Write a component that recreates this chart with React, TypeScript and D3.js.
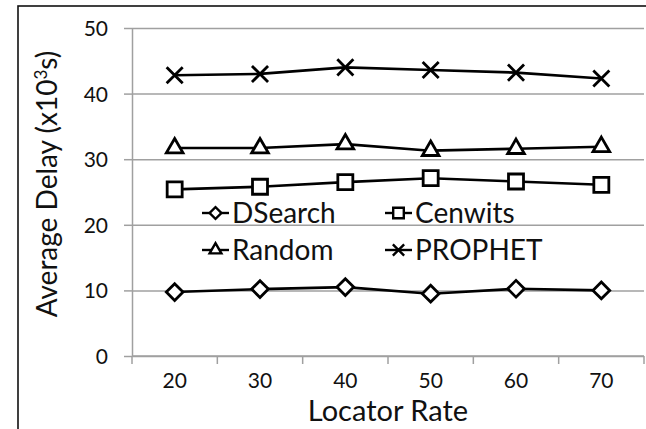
import { useEffect, useRef } from 'react';
import * as d3 from 'd3';

// Locator rate categories and average delay (x10^3 s) per protocol
const rates = ['20', '30', '40', '50', '60', '70'];
const dsearch = [9.75, 10.2, 10.5, 9.5, 10.25, 10.0];
const cenwits = [25.4, 25.8, 26.5, 27.1, 26.6, 26.1];
const random = [31.7, 31.7, 32.3, 31.3, 31.6, 31.9];
const prophet = [42.8, 43.0, 44.0, 43.6, 43.2, 42.3];
const yTicks = [0, 10, 20, 30, 40, 50];

const FONT = 'Lato, "Open Sans", sans-serif';

export default function App() {
  const svgRef = useRef<SVGSVGElement | null>(null);

  useEffect(() => {
    const el = svgRef.current;
    if (!el) return;
    d3.select(el).selectAll('*').remove();

    const W = 646;
    const H = 429;
    const plot = { left: 132, right: 644, top: 28, bottom: 356 };

    const svg = d3.select(el).attr('width', W).attr('height', H);

    // background + outer frame (runs off the right and bottom edge)
    svg.append('rect').attr('width', W).attr('height', H).attr('fill', '#fff');
    svg.append('rect')
      .attr('x', 18).attr('y', 6)
      .attr('width', 700).attr('height', 500)
      .attr('fill', 'none')
      .attr('stroke', '#111')
      .attr('stroke-width', 1.6);

    const x = d3.scaleBand<string>().domain(rates).range([plot.left, plot.right]);
    const y = d3.scaleLinear().domain([0, 50]).range([plot.bottom, plot.top]);
    const cx = (r: string) => (x(r) ?? 0) + x.bandwidth() / 2;

    const grey = '#a0a0a0';

    // horizontal grid
    svg.append('g')
      .attr('transform', `translate(${plot.left},0)`)
      .call(d3.axisLeft(y).tickValues(yTicks).tickSize(-(plot.right - plot.left)).tickFormat(() => ''))
      .call(g => g.select('.domain').remove())
      .selectAll('line')
      .attr('stroke', grey)
      .attr('stroke-width', 1.5);

    // y axis with outer ticks
    const yAxis = svg.append('g')
      .attr('transform', `translate(${plot.left},0)`)
      .call(d3.axisLeft(y).tickValues(yTicks).tickSize(8).tickPadding(16).tickSizeOuter(0));
    yAxis.select('.domain').attr('stroke', grey).attr('stroke-width', 1.5);
    yAxis.selectAll('line').attr('stroke', grey).attr('stroke-width', 1.5);
    yAxis.selectAll('text')
      .style('font-family', FONT)
      .style('font-size', '21px')
      .attr('fill', '#111')
      .attr('dy', '0.36em');

    // x axis: ticks on band edges
    const xAxis = svg.append('g').attr('transform', `translate(0,${plot.bottom})`);
    xAxis.append('line')
      .attr('x1', plot.left).attr('x2', plot.right)
      .attr('stroke', grey).attr('stroke-width', 1.5);
    const edges = rates.map(r => x(r) ?? 0).concat([plot.right]);
    xAxis.selectAll('line.edge')
      .data(edges)
      .join('line')
      .attr('class', 'edge')
      .attr('x1', d => d).attr('x2', d => d)
      .attr('y1', 0).attr('y2', 8)
      .attr('stroke', grey).attr('stroke-width', 1.5);
    xAxis.selectAll('text')
      .data(rates)
      .join('text')
      .attr('x', d => cx(d))
      .attr('y', 32)
      .attr('text-anchor', 'middle')
      .style('font-family', FONT)
      .style('font-size', '21px')
      .attr('fill', '#111')
      .text(d => d);

    // axis titles
    svg.append('text')
      .attr('x', (plot.left + plot.right) / 2)
      .attr('y', 421)
      .attr('text-anchor', 'middle')
      .style('font-family', FONT)
      .style('font-size', '29px')
      .attr('fill', '#111')
      .text('Locator Rate');

    const yt = svg.append('text')
      .attr('transform', `translate(57,${(plot.top + plot.bottom) / 2 - 8}) rotate(-90)`)
      .attr('text-anchor', 'middle')
      .style('font-family', FONT)
      .style('font-size', '28px')
      .attr('fill', '#111');
    yt.append('tspan').text('Average Delay (x10');
    yt.append('tspan').attr('dy', -10).style('font-size', '17px').text('3');
    yt.append('tspan').attr('dy', 10).text('s)');

    // series
    const series = [
      { name: 'DSearch', values: dsearch, symbol: d3.symbolSquare, size: 140, rotate: 45 },
      { name: 'Cenwits', values: cenwits, symbol: d3.symbolSquare, size: 225, rotate: 0 },
      { name: 'Random', values: random, symbol: d3.symbolTriangle, size: 120, rotate: 0 },
      { name: 'PROPHET', values: prophet, symbol: d3.symbolX, size: 170, rotate: 0 },
    ];

    const line = d3.line<number>()
      .x((_, i) => cx(rates[i]))
      .y(d => y(d));

    series.forEach(s => {
      svg.append('path')
        .datum(s.values)
        .attr('fill', 'none')
        .attr('stroke', '#000')
        .attr('stroke-width', 2.6)
        .attr('d', line);

      const sym = d3.symbol().type(s.symbol).size(s.size);
      svg.append('g')
        .selectAll('path')
        .data(s.values)
        .join('path')
        .attr('transform', (d, i) => `translate(${cx(rates[i])},${y(d)}) rotate(${s.rotate})`)
        .attr('d', sym() as string)
        .attr('fill', s.symbol === d3.symbolX ? 'none' : '#fff')
        .attr('stroke', '#000')
        .attr('stroke-width', 2.8);
    });

    // legend, 2 x 2 inside the plot
    const legendCols = [202, 385];
    const legendRows = [213, 250];
    series.forEach((s, i) => {
      const lx = legendCols[i % 2];
      const ly = legendRows[Math.floor(i / 2)];
      const g = svg.append('g').attr('transform', `translate(${lx},${ly})`);
      g.append('line')
        .attr('x1', 0).attr('x2', 27)
        .attr('stroke', '#000').attr('stroke-width', 2.4);
      const sym = d3.symbol().type(s.symbol).size(s.size * 0.5);
      g.append('path')
        .attr('transform', `translate(13.5,0) rotate(${s.rotate})`)
        .attr('d', sym() as string)
        .attr('fill', s.symbol === d3.symbolX ? 'none' : '#fff')
        .attr('stroke', '#000')
        .attr('stroke-width', 2.4);
      g.append('text')
        .attr('x', 30)
        .attr('y', 10)
        .style('font-family', FONT)
        .style('font-size', '28px')
        .attr('fill', '#111')
        .text(s.name);
    });
  }, []);

  return (
    <div style={{ position: 'fixed', left: 0, top: 0, width: 646, height: 429 }}>
      <svg ref={svgRef} style={{ display: 'block' }} />
    </div>
  );
}
